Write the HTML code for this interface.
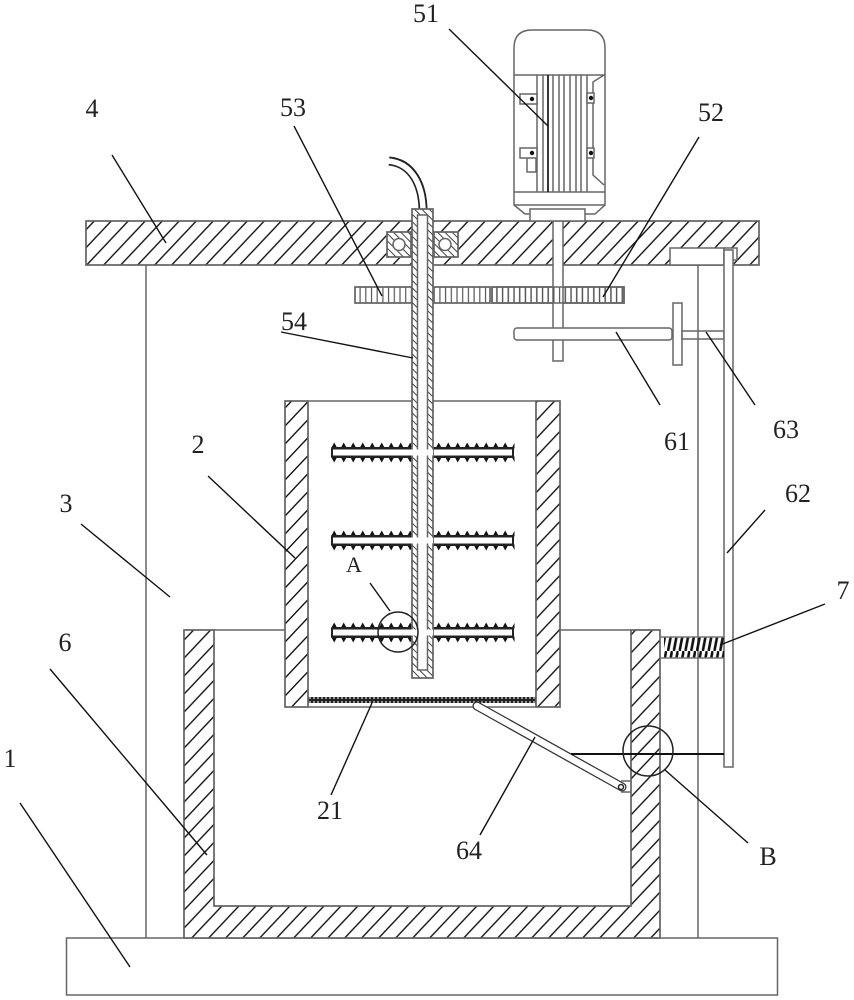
<!DOCTYPE html>
<html><head><meta charset="utf-8">
<style>html,body{margin:0;padding:0;background:#fff}svg{display:block}
text{font-family:"Liberation Serif",serif;font-size:26px;fill:#222;text-anchor:middle}</style></head>
<body>
<svg width="854" height="1000" viewBox="0 0 854 1000" xmlns="http://www.w3.org/2000/svg">
<defs>
<pattern id="hp" width="17" height="18" patternUnits="userSpaceOnUse" patternTransform="translate(86.7,265)">
<path d="M-3.4 21.6L20.400 -3.600M-20.400 21.600L3.400 -3.600M13.600 21.600L37.400 -3.600" stroke="#111" stroke-width="1.400" fill="none"/></pattern>
<pattern id="ht" width="17" height="18" patternUnits="userSpaceOnUse" patternTransform="translate(191.7,938)">
<path d="M-3.4 21.6L20.400 -3.600M-20.400 21.600L3.400 -3.600M13.600 21.600L37.400 -3.600" stroke="#111" stroke-width="1.400" fill="none"/></pattern>
<pattern id="hl" width="17" height="18" patternUnits="userSpaceOnUse" patternTransform="translate(285,660)">
<path d="M-3.4 21.6L20.400 -3.600M-20.400 21.600L3.400 -3.600M13.600 21.600L37.400 -3.600" stroke="#111" stroke-width="1.400" fill="none"/></pattern>
<pattern id="hr" width="17" height="18" patternUnits="userSpaceOnUse" patternTransform="translate(536.7,420)">
<path d="M-3.4 21.6L20.400 -3.600M-20.400 21.600L3.400 -3.600M13.600 21.600L37.400 -3.600" stroke="#111" stroke-width="1.400" fill="none"/></pattern>
<pattern id="f" width="5.2" height="5.2" patternUnits="userSpaceOnUse" patternTransform="rotate(45)">
<line x1="0" y1="0" x2="5.2" y2="0" stroke="#222" stroke-width="1.700"/></pattern>
<pattern id="g" width="5.7" height="10" patternUnits="userSpaceOnUse">
<line x1="1" y1="0" x2="1" y2="10" stroke="#555" stroke-width="1.200"/></pattern>
<pattern id="m" width="4" height="4" patternUnits="userSpaceOnUse">
<rect width="4" height="4" fill="#222"/><circle cx="2" cy="2" r="1" fill="#bbb"/></pattern>
<pattern id="sp" width="9.5" height="20" patternUnits="userSpaceOnUse">
<path d="M4.7 0L8 6H1.500Z M4.7 20L8 14H1.500Z" fill="#111"/></pattern>
<pattern id="c" width="5.8" height="21" patternUnits="userSpaceOnUse">
<line x1="5" y1="0" x2="1" y2="21" stroke="#111" stroke-width="2.600"/></pattern>
</defs>
<rect width="854" height="1000" fill="#fff"/>
<g fill="none" stroke="#666" stroke-width="1.500">
<!-- base and frame -->
<rect x="66.500" y="938" width="711" height="57"/>
<line x1="146" y1="265" x2="146" y2="938"/>
<line x1="698" y1="265" x2="698" y2="938"/>
<!-- top plate -->
<rect x="86" y="221" width="673" height="44" fill="#fff"/>
<rect x="86" y="221" width="673" height="44" fill="url(#hp)"/>
<!-- outer tank -->
<path d="M184 630H214V906H631V630H660V938H184Z" fill="#fff"/>
<path d="M184 630H214V906H631V630H660V938H184Z" fill="url(#ht)"/>
<line x1="214" y1="630" x2="285" y2="630"/>
<line x1="560" y1="630" x2="631" y2="630"/>
<!-- inner vessel -->
<rect x="285" y="401" width="275" height="306" fill="#fff"/>
<rect x="285" y="401" width="23" height="306" fill="url(#hl)"/>
<rect x="536" y="401" width="24" height="306" fill="url(#hr)"/>
<rect x="308" y="697" width="228" height="6" fill="url(#m)" stroke="none"/>
<line x1="308" y1="401" x2="308" y2="707"/>
<line x1="536" y1="401" x2="536" y2="707"/>
<!-- paddles -->
<g stroke="none">
<g transform="translate(329.500,442.500)"><rect x="0" y="0" width="185" height="20" fill="url(#sp)"/></g>
<g transform="translate(329.500,530.500)"><rect x="0" y="0" width="185" height="20" fill="url(#sp)"/></g>
<g transform="translate(329.500,622.500)"><rect x="0" y="0" width="185" height="20" fill="url(#sp)"/></g>
</g>
<g fill="#222" stroke="none">
<rect x="331" y="447" width="183" height="11" rx="1"/>
<rect x="331" y="535" width="183" height="11" rx="1"/>
<rect x="331" y="627" width="183" height="11" rx="1"/>
</g>
<g fill="#fff" stroke="none">
<rect x="333" y="449.500" width="179" height="6"/>
<rect x="333" y="537.500" width="179" height="6"/>
<rect x="333" y="629.500" width="179" height="6"/>
</g>
<!-- bearings -->
<rect x="387" y="232" width="24" height="25" fill="#fff"/>
<rect x="387" y="232" width="24" height="25" fill="url(#f)"/>
<rect x="434" y="232" width="24" height="25" fill="#fff"/>
<rect x="434" y="232" width="24" height="25" fill="url(#f)"/>
<circle cx="399" cy="244.500" r="6" fill="#fff"/>
<circle cx="445" cy="244.500" r="6" fill="#fff"/>
<!-- gears -->
<rect x="355" y="287" width="135" height="16" fill="#fff"/>
<rect x="355" y="287" width="135" height="16" fill="url(#g)"/>
<rect x="492" y="287" width="132" height="16" fill="#fff"/>
<rect x="492" y="287" width="132" height="16" fill="url(#g)"/>
<!-- hollow shaft -->
<path d="M423 211C423 185 412 163 389 161" stroke="#222" stroke-width="9"/>
<path d="M423 212C423 185 412 163 388 161" stroke="#fff" stroke-width="5.500"/>
<rect x="412" y="209" width="21" height="469" fill="#fff"/>
<rect x="412" y="209" width="21" height="469" fill="url(#f)"/>
<path d="M417.500 215V670H427.500V215Z" fill="#fff"/>
<rect x="411" y="449.500" width="22" height="6" fill="#fff" stroke="none"/>
<rect x="411" y="537.500" width="22" height="6" fill="#fff" stroke="none"/>
<rect x="411" y="629.500" width="22" height="6" fill="#fff" stroke="none"/>
<!-- motor shaft -->
<rect x="553" y="221" width="10" height="140" fill="#fff"/>
<rect x="492" y="287" width="132" height="16" fill="url(#g)"/>
<rect x="514" y="328" width="158" height="12" rx="3" fill="#fff"/>
<rect x="673" y="303" width="9" height="62" fill="#fff"/>
<rect x="682" y="331" width="42" height="8" fill="#fff"/>
<line x1="698" y1="331" x2="698" y2="339"/>
<!-- motor -->
<path d="M514 205V48Q514 30 532 30H587Q605 30 605 48V205L595 214H525Z" fill="#fff"/>
<line x1="514" y1="75" x2="605" y2="75"/>
<line x1="514" y1="192" x2="605" y2="192"/>
<line x1="514" y1="205" x2="605" y2="205"/>
<path d="M537 75V192M543 75V192M553 75V192M559 75V192M564 75V192M570 75V192M576 75V192M581 75V192M587 75V192"/>
<line x1="548" y1="75" x2="548" y2="192" stroke="#222" stroke-width="1.800"/>
<path d="M604 75L593 82V175L604 185"/>
<path d="M520 94H537V104H520ZM520 148H537V158H520ZM527 158H536V172H527ZM587 93H594V103H587ZM587 148H594V158H587Z" fill="#fff"/>
<g fill="#111" stroke="none"><circle cx="532" cy="99" r="2.200"/><circle cx="532" cy="153" r="2.200"/><circle cx="591" cy="98" r="2.200"/><circle cx="591" cy="153" r="2.200"/></g>
<rect x="530" y="209" width="55" height="12" fill="#fff"/>
<!-- right side mechanism -->
<rect x="670" y="248" width="54" height="17" fill="#fff"/>
<rect x="724" y="248" width="13" height="12" fill="#fff"/>
<rect x="724" y="250" width="9" height="517" fill="#fff"/>
<!-- spring -->
<rect x="664" y="637" width="60" height="21" fill="url(#c)" stroke="none"/>
<line x1="660" y1="637" x2="724" y2="637" stroke="#777"/>
<line x1="660" y1="658" x2="724" y2="658" stroke="#777"/>
<!-- lever -->
<line x1="477" y1="706" x2="622" y2="787" stroke="#333" stroke-width="9" stroke-linecap="round"/>
<line x1="477" y1="706" x2="622" y2="787" stroke="#fff" stroke-width="6.500" stroke-linecap="round"/>
<path d="M621 781H631M621 792H631"/>
<circle cx="621" cy="787" r="2.500" stroke="#222"/>
<!-- wire -->
<line x1="571" y1="754" x2="724" y2="754" stroke="#111" stroke-width="2"/>
<!-- detail circles -->
<circle cx="398" cy="632" r="20" stroke="#222"/>
<circle cx="648" cy="751" r="25" stroke="#222"/>
</g>
<!-- leaders -->
<g stroke="#111" stroke-width="1.400" fill="none">
<line x1="112" y1="155" x2="166" y2="243"/>
<line x1="449" y1="29" x2="548" y2="126"/>
<line x1="699" y1="137" x2="603" y2="297"/>
<line x1="294" y1="126" x2="382" y2="296"/>
<line x1="281" y1="332" x2="413" y2="358"/>
<line x1="616" y1="332" x2="660" y2="405"/>
<line x1="706" y1="332" x2="755" y2="405"/>
<line x1="727" y1="553" x2="765" y2="510"/>
<line x1="720" y1="645" x2="825" y2="604"/>
<line x1="81" y1="524" x2="170" y2="597"/>
<line x1="208" y1="476" x2="295" y2="558"/>
<line x1="50" y1="669" x2="207" y2="855"/>
<line x1="20" y1="803" x2="130" y2="967"/>
<line x1="331" y1="795" x2="372" y2="703"/>
<line x1="480" y1="835" x2="535" y2="737"/>
<line x1="665" y1="770" x2="748" y2="843"/>
<line x1="370" y1="583" x2="390" y2="611"/>
</g>
<text x="426" y="22">51</text>
<text x="711" y="121">52</text>
<text x="293" y="116">53</text>
<text x="92" y="117">4</text>
<text x="294" y="330">54</text>
<text x="677" y="450">61</text>
<text x="786" y="438">63</text>
<text x="798" y="502">62</text>
<text x="198" y="453">2</text>
<text x="66" y="512">3</text>
<text x="843" y="599">7</text>
<text x="65" y="651">6</text>
<text x="10" y="767">1</text>
<text x="330" y="819">21</text>
<text x="469" y="859">64</text>
<text x="768" y="865">B</text>
<text x="354" y="572" style="font-size:22px">A</text>
</svg>
</body></html>
